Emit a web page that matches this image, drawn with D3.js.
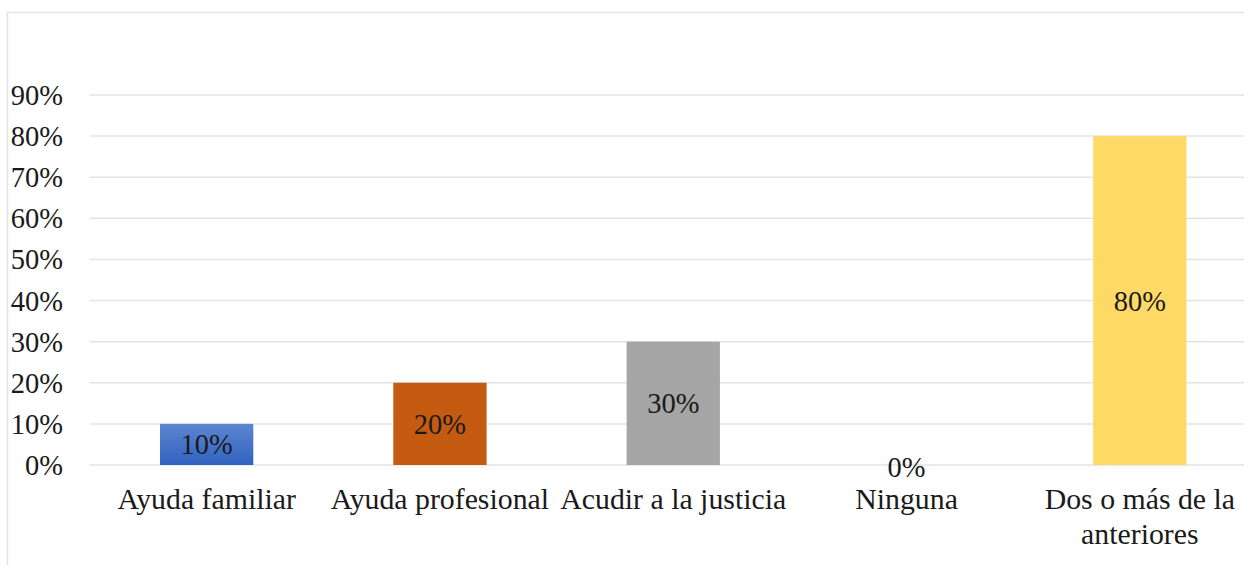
<!DOCTYPE html>
<html><head><meta charset="utf-8">
<script src="https://cdn.jsdelivr.net/npm/d3@7"></script>
<style>html,body{margin:0;padding:0;background:#fff;overflow:hidden}
text{font-family:"Liberation Serif","Times New Roman",Times,serif;}</style>
</head><body>
<svg id="c" width="1244" height="565"></svg>
<script>
const categories = [["Ayuda familiar"],["Ayuda profesional"],["Acudir a la justicia"],["Ninguna"],["Dos o más de la","anteriores"]];
const values = [0.10, 0.20, 0.30, 0.00, 0.80];
const colors = ["#4472c4", "#c55a11", "#a5a5a5", "#ffc000", "#ffd966"];
const tickValues = [0,0.1,0.2,0.3,0.4,0.5,0.6,0.7,0.8,0.9];

const svg = d3.select("#c");
const fs = 28.5, fsCat = 29.8;
const defs = svg.append("defs");
const g1 = defs.append("linearGradient").attr("id","blueGrad").attr("x1",0).attr("y1",0).attr("x2",0).attr("y2",1);
g1.append("stop").attr("offset","0%").attr("stop-color","#5e86d0");
g1.append("stop").attr("offset","100%").attr("stop-color","#3162c0");

// chart border
svg.append("rect").attr("x",7.5).attr("y",12.5).attr("width",1300).attr("height",700)
  .attr("fill","none").attr("stroke","#dfe2e7").attr("stroke-width",1.5);

const x = d3.scaleBand().domain(d3.range(categories.length)).range([90,1256.5]).paddingInner(0.6).paddingOuter(0.3);
const y = d3.scaleLinear().domain([0,0.9]).range([465,95]);

// gridlines
svg.append("g").selectAll("line").data(tickValues).join("line")
  .attr("x1",90).attr("x2",1244).attr("y1",d=>y(d)).attr("y2",d=>y(d))
  .attr("stroke","#e0e3e8").attr("stroke-width",1.5);

// y labels
svg.append("g").selectAll("text").data(tickValues).join("text")
  .attr("x",63).attr("y",d=>y(d)).attr("dy","0.35em").attr("text-anchor","end")
  .attr("font-size",fs).attr("fill","#1a1a1a")
  .text(d=>Math.round(d*100)+"%");

// bars
svg.append("g").selectAll("rect").data(values).join("rect")
  .attr("x",(d,i)=>x(i)).attr("width",x.bandwidth())
  .attr("y",d=>y(d)).attr("height",d=>y(0)-y(d))
  .attr("fill",(d,i)=>i===0?"url(#blueGrad)":colors[i]);

// data labels
svg.append("g").selectAll("text").data(values).join("text")
  .attr("x",(d,i)=>x(i)+x.bandwidth()/2)
  .attr("y",d=>(y(d)+y(0))/2 + (d===0?2:0)).attr("dy","0.35em").attr("text-anchor","middle")
  .attr("font-size",fs).attr("fill","#1a1a1a")
  .text(d=>Math.round(d*100)+"%");

// category labels
const cl = svg.append("g").selectAll("text").data(categories).join("text")
  .attr("x",(d,i)=>x(i)+x.bandwidth()/2).attr("y",509).attr("text-anchor","middle")
  .attr("font-size",fsCat).attr("fill","#1a1a1a");
cl.each(function(d,i){
  const t=d3.select(this);
  d.forEach((line,j)=>t.append("tspan").attr("x",x(i)+x.bandwidth()/2).attr("dy",j===0?0:34.5).text(line));
});
</script>
</body></html>
